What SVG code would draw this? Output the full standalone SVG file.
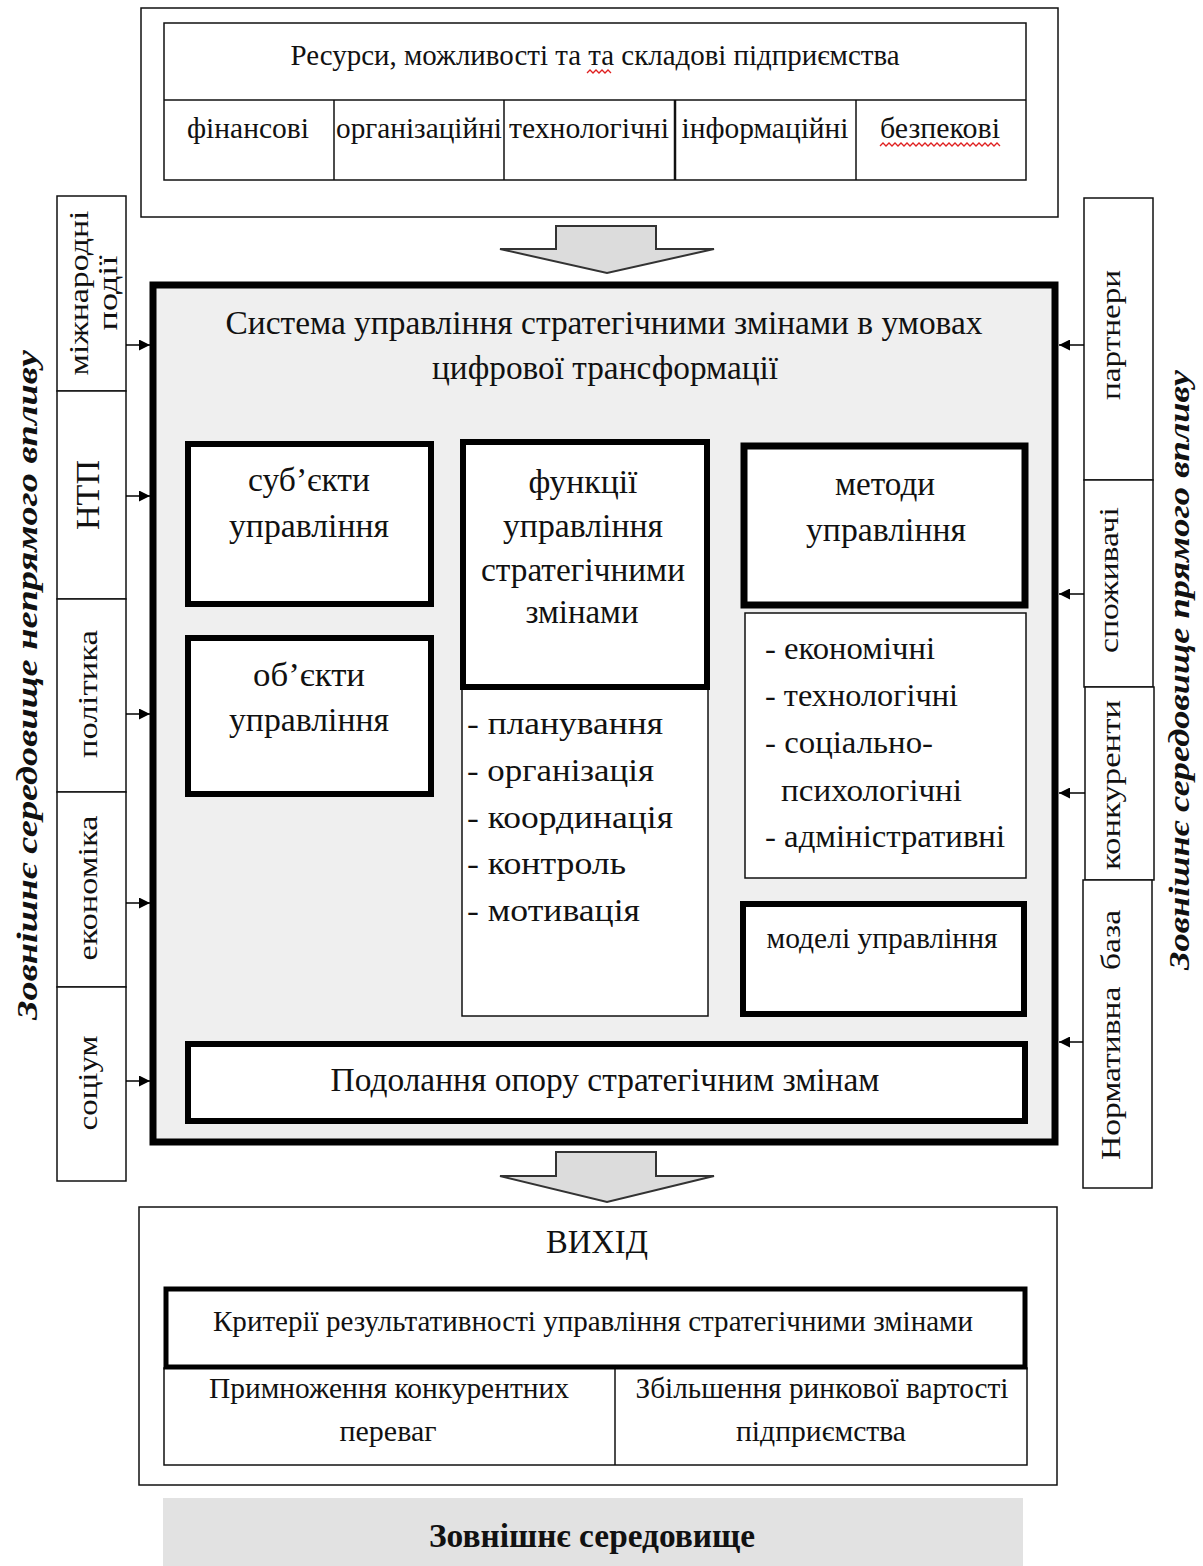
<svg xmlns="http://www.w3.org/2000/svg" width="1203" height="1566" viewBox="0 0 1203 1566">
<defs>
<style>
text{font-family:"Liberation Serif","Times New Roman",serif;fill:#111}
.t27{font-size:29px}
.s27{font-size:28px}
.t29{font-size:31px}
.t30{font-size:33px}
.t32{font-size:34px}
.c{text-anchor:middle}
.thin{fill:#fff;stroke:#111;stroke-width:1.5}
.thick{fill:#fff;stroke:#000;stroke-width:6}
.it{font-size:29px;font-weight:bold;font-style:italic;text-anchor:middle}
.sq{fill:none;stroke:#e02020;stroke-width:1.3}
</style>
<marker id="ah" viewBox="0 0 10 10" refX="10" refY="5" markerWidth="11" markerHeight="11" markerUnits="userSpaceOnUse" orient="auto">
<path d="M0,0 L10,5 L0,10 Z" fill="#000"/>
</marker>
</defs>
<rect width="1203" height="1566" fill="#fff"/>

<g id="resources">
<rect x="141" y="8" width="917" height="209" class="thin"/>
<rect x="164" y="23" width="862" height="157" class="thin"/>
<line x1="164" y1="100" x2="1026" y2="100" stroke="#111" stroke-width="1.5"/>
<line x1="334" y1="100" x2="334" y2="180" stroke="#111" stroke-width="1.5"/>
<line x1="504" y1="100" x2="504" y2="180" stroke="#111" stroke-width="1.5"/>
<line x1="675" y1="100" x2="675" y2="180" stroke="#111" stroke-width="2.5"/>
<line x1="856" y1="100" x2="856" y2="180" stroke="#111" stroke-width="1.5"/>
<text x="595" y="65" class="t27 c" textLength="609" lengthAdjust="spacingAndGlyphs">Ресурси, можливості та та складові підприємства</text>
<text x="248" y="138" class="t27 c" textLength="122" lengthAdjust="spacingAndGlyphs">фінансові</text>
<text x="419" y="138" class="t27 c" textLength="166" lengthAdjust="spacingAndGlyphs">організаційні</text>
<text x="589" y="138" class="t27 c" textLength="160" lengthAdjust="spacingAndGlyphs">технологічні</text>
<text x="765" y="138" class="t27 c" textLength="167" lengthAdjust="spacingAndGlyphs">інформаційні</text>
<text x="940" y="138" class="t27 c" textLength="120" lengthAdjust="spacingAndGlyphs">безпекові</text>
<path class="sq" d="M587,73 l3,-3 l3,3 l3,-3 l3,3 l3,-3 l3,3 l3,-3 l3,3"/>
<path class="sq" d="M880,146 l3,-3 l3,3 l3,-3 l3,3 l3,-3 l3,3 l3,-3 l3,3 l3,-3 l3,3 l3,-3 l3,3 l3,-3 l3,3 l3,-3 l3,3 l3,-3 l3,3 l3,-3 l3,3 l3,-3 l3,3 l3,-3 l3,3 l3,-3 l3,3 l3,-3 l3,3 l3,-3 l3,3 l3,-3 l3,3 l3,-3 l3,3 l3,-3 l3,3 l3,-3 l3,3 l3,-3 l3,3"/>
</g>

<g id="arrow-in">
<path d="M556,226 H656 V249 H714 L607,273 L500,249 H556 Z" fill="#dcdcdc" stroke="#333" stroke-width="2"/>
</g>

<g id="system">
<rect x="153" y="285" width="902" height="857" fill="#efefef" stroke="#000" stroke-width="7"/>
<text x="604" y="334" class="t32 c" textLength="757" lengthAdjust="spacingAndGlyphs">Система управління стратегічними змінами в умовах</text>
<text x="605" y="379" class="t32 c" textLength="346" lengthAdjust="spacingAndGlyphs">цифрової трансформації</text>
</g>

<g id="subjects">
<rect x="188" y="444" width="243" height="160" class="thick"/>
<text x="309" y="491" class="t30 c" textLength="122" lengthAdjust="spacingAndGlyphs">суб’єкти</text>
<text x="309" y="537" class="t30 c" textLength="160" lengthAdjust="spacingAndGlyphs">управління</text>
</g>

<g id="objects">
<rect x="188" y="638" width="243" height="156" class="thick"/>
<text x="309" y="686" class="t30 c" textLength="112" lengthAdjust="spacingAndGlyphs">об’єкти</text>
<text x="309" y="731" class="t30 c" textLength="160" lengthAdjust="spacingAndGlyphs">управління</text>
</g>

<g id="functions">
<rect x="462" y="689" width="246" height="327" class="thin"/>
<rect x="463" y="442" width="244" height="245" class="thick"/>
<text x="583" y="493" class="t30 c" textLength="109" lengthAdjust="spacingAndGlyphs">функції</text>
<text x="583" y="537" class="t30 c" textLength="160" lengthAdjust="spacingAndGlyphs">управління</text>
<text x="583" y="581" class="t30 c" textLength="204" lengthAdjust="spacingAndGlyphs">стратегічними</text>
<text x="582" y="623" class="t30 c" textLength="113" lengthAdjust="spacingAndGlyphs">змінами</text>
<text x="467" y="734" class="t29" textLength="196" lengthAdjust="spacingAndGlyphs">- планування</text>
<text x="467" y="781" class="t29" textLength="187" lengthAdjust="spacingAndGlyphs">- організація</text>
<text x="467" y="828" class="t29" textLength="206" lengthAdjust="spacingAndGlyphs">- координація</text>
<text x="467" y="874" class="t29" textLength="159" lengthAdjust="spacingAndGlyphs">- контроль</text>
<text x="467" y="921" class="t29" textLength="173" lengthAdjust="spacingAndGlyphs">- мотивація</text>
</g>

<g id="methods">
<rect x="745" y="613" width="281" height="265" class="thin"/>
<rect x="744" y="446" width="281" height="159" fill="#fff" stroke="#000" stroke-width="7"/>
<text x="885" y="495" class="t30 c" textLength="100" lengthAdjust="spacingAndGlyphs">методи</text>
<text x="886" y="541" class="t30 c" textLength="160" lengthAdjust="spacingAndGlyphs">управління</text>
<text x="765" y="659" class="t29" textLength="170" lengthAdjust="spacingAndGlyphs">- економічні</text>
<text x="765" y="706" class="t29" textLength="193" lengthAdjust="spacingAndGlyphs">- технологічні</text>
<text x="765" y="753" class="t29" textLength="168" lengthAdjust="spacingAndGlyphs">- соціально-</text>
<text x="781" y="801" class="t29" textLength="181" lengthAdjust="spacingAndGlyphs">психологічні</text>
<text x="765" y="847" class="t29" textLength="240" lengthAdjust="spacingAndGlyphs">- адміністративні</text>
</g>

<g id="models">
<rect x="743" y="904" width="281" height="110" class="thick"/>
<text x="882" y="948" class="t27 c" textLength="231" lengthAdjust="spacingAndGlyphs">моделі управління</text>
</g>

<g id="resistance">
<rect x="188" y="1044" width="837" height="77" class="thick"/>
<text x="605" y="1091" class="t30 c" textLength="549" lengthAdjust="spacingAndGlyphs">Подолання опору стратегічним змінам</text>
</g>

<g id="arrow-out">
<path d="M556,1152 H656 V1176 H714 L607,1202 L500,1176 H556 Z" fill="#dcdcdc" stroke="#333" stroke-width="2"/>
</g>

<g id="output">
<rect x="139" y="1207" width="918" height="278" class="thin"/>
<text x="597" y="1253" class="t32 c" textLength="102" lengthAdjust="spacingAndGlyphs">ВИХІД</text>
<rect x="164" y="1368" width="863" height="97" class="thin"/>
<line x1="615" y1="1368" x2="615" y2="1465" stroke="#111" stroke-width="1.5"/>
<rect x="166" y="1289" width="859" height="78" fill="#fff" stroke="#000" stroke-width="5"/>
<text x="593" y="1331" class="t27 c" textLength="760" lengthAdjust="spacingAndGlyphs">Критерії результативності управління стратегічними змінами</text>
<text x="389" y="1398" class="t27 c" textLength="360" lengthAdjust="spacingAndGlyphs">Примноження конкурентних</text>
<text x="388" y="1441" class="t27 c" textLength="97" lengthAdjust="spacingAndGlyphs">переваг</text>
<text x="822" y="1398" class="t27 c" textLength="373" lengthAdjust="spacingAndGlyphs">Збільшення ринкової вартості</text>
<text x="821" y="1441" class="t27 c" textLength="170" lengthAdjust="spacingAndGlyphs">підприємства</text>
</g>

<g id="environment">
<rect x="163" y="1498" width="860" height="68" fill="#e2e2e2"/>
<text x="592" y="1547" class="t30 c" font-weight="bold" textLength="326" lengthAdjust="spacingAndGlyphs">Зовнішнє середовище</text>
</g>

<g id="left-factors">
<rect x="57" y="196" width="69" height="195" class="thin"/>
<rect x="57" y="391" width="69" height="208" class="thin"/>
<rect x="57" y="599" width="69" height="193" class="thin"/>
<rect x="57" y="792" width="69" height="195" class="thin"/>
<rect x="57" y="987" width="69" height="194" class="thin"/>
<text transform="translate(88,293) rotate(-90)" class="s27 c" textLength="165" lengthAdjust="spacingAndGlyphs">міжнародні</text>
<text transform="translate(117,293) rotate(-90)" class="s27 c" textLength="75" lengthAdjust="spacingAndGlyphs">події</text>
<text transform="translate(99,495) rotate(-90)" class="t30 c" textLength="70" lengthAdjust="spacingAndGlyphs">НТП</text>
<text transform="translate(97,694) rotate(-90)" class="s27 c" textLength="128" lengthAdjust="spacingAndGlyphs">політика</text>
<text transform="translate(97,888) rotate(-90)" class="s27 c" textLength="145" lengthAdjust="spacingAndGlyphs">економіка</text>
<text transform="translate(97,1083) rotate(-90)" class="s27 c" textLength="95" lengthAdjust="spacingAndGlyphs">соціум</text>
<text transform="translate(37,685) rotate(-90)" class="it" textLength="670" lengthAdjust="spacingAndGlyphs">Зовнішнє середовище непрямого впливу</text>
</g>

<g id="right-factors">
<rect x="1084" y="198" width="69" height="282" class="thin"/>
<rect x="1084" y="480" width="69" height="207" class="thin"/>
<rect x="1085" y="687" width="69" height="193" class="thin"/>
<rect x="1083" y="880" width="69" height="308" class="thin"/>
<text transform="translate(1120,335) rotate(-90)" class="s27 c" textLength="130" lengthAdjust="spacingAndGlyphs">партнери</text>
<text transform="translate(1118,580) rotate(-90)" class="s27 c" textLength="146" lengthAdjust="spacingAndGlyphs">споживачі</text>
<text transform="translate(1120,785) rotate(-90)" class="s27 c" textLength="170" lengthAdjust="spacingAndGlyphs">конкуренти</text>
<text transform="translate(1120,1035) rotate(-90)" class="s27 c" textLength="250" lengthAdjust="spacingAndGlyphs" xml:space="preserve">Нормативна  база</text>
<text transform="translate(1189,670) rotate(-90)" class="it" textLength="600" lengthAdjust="spacingAndGlyphs">Зовнішнє середовище прямого впливу</text>
</g>

<g id="connectors" stroke="#000" stroke-width="1.5" fill="none">
<line x1="126" y1="345" x2="150" y2="345" marker-end="url(#ah)"/>
<line x1="126" y1="496" x2="150" y2="496" marker-end="url(#ah)"/>
<line x1="126" y1="714" x2="150" y2="714" marker-end="url(#ah)"/>
<line x1="126" y1="903" x2="150" y2="903" marker-end="url(#ah)"/>
<line x1="126" y1="1081" x2="150" y2="1081" marker-end="url(#ah)"/>
<line x1="1084" y1="345" x2="1059" y2="345" marker-end="url(#ah)"/>
<line x1="1084" y1="594" x2="1059" y2="594" marker-end="url(#ah)"/>
<line x1="1085" y1="793" x2="1059" y2="793" marker-end="url(#ah)"/>
<line x1="1083" y1="1042" x2="1059" y2="1042" marker-end="url(#ah)"/>
</g>
</svg>
